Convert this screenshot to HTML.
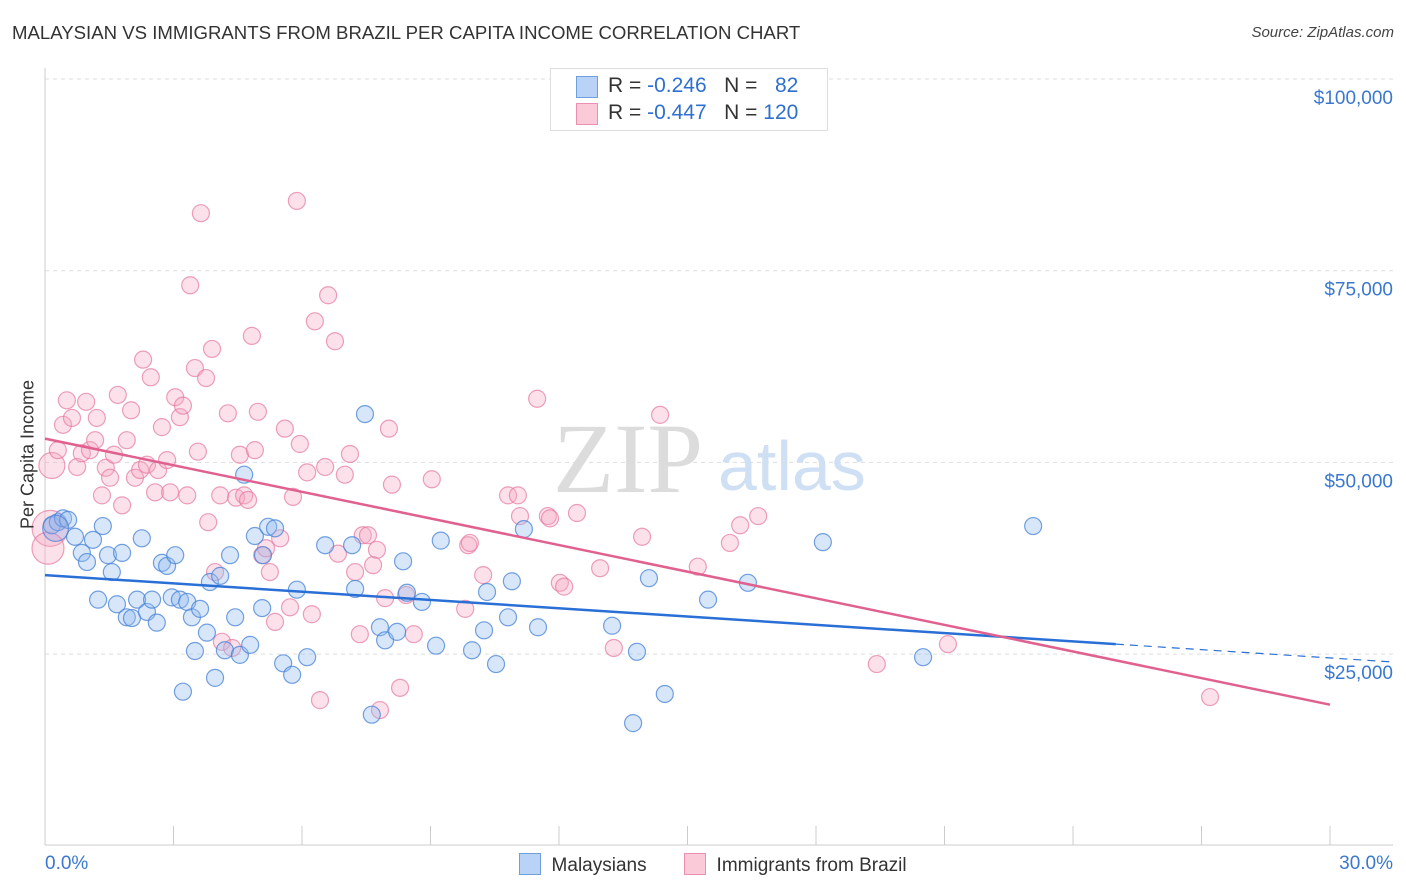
<!DOCTYPE html>
<html><head><meta charset="utf-8">
<style>
body{margin:0;background:#fff;font-family:"Liberation Sans",sans-serif;}
#wrap{position:relative;width:1406px;height:892px;overflow:hidden;}
.t{position:absolute;white-space:nowrap;}
</style></head>
<body>
<div id="wrap">
<div class="t" style="left:12px;top:22px;font-size:18.6px;color:#333;">MALAYSIAN VS IMMIGRANTS FROM BRAZIL PER CAPITA INCOME CORRELATION CHART</div>
<div class="t" style="right:12px;top:24px;font-size:15px;color:#444;font-style:italic;">Source: ZipAtlas.com</div>
<svg id="svg" width="1406" height="892" style="position:absolute;left:0;top:0"></svg>
</div>
<script>
const xPct=[0,30];
const yTickVals=[25000,50000,75000,100000];
const yTickLabels=["$25,000","$50,000","$75,000","$100,000"];
const blueX=[0.16,0.30,0.42,0.54,0.70,0.86,0.98,1.12,1.24,1.35,1.47,1.56,1.68,1.80,1.91,2.03,2.15,2.26,2.38,2.50,2.61,2.73,2.85,2.96,3.04,3.15,3.22,3.32,3.43,3.50,3.62,3.78,3.85,3.97,4.09,4.20,4.32,4.44,4.55,4.65,4.79,4.90,5.07,5.09,5.21,5.37,5.56,5.77,5.88,6.12,6.54,7.17,7.24,7.47,7.63,7.82,7.94,8.22,8.36,8.45,8.80,9.13,9.24,9.97,10.32,10.25,10.53,10.81,10.90,11.18,11.51,13.24,13.73,13.82,14.10,14.47,15.48,16.41,18.16,20.50,23.07];
const blueY=[41.8,42.2,42.7,42.5,40.3,38.2,37.0,39.9,32.1,41.7,37.9,35.7,31.5,38.2,29.8,29.7,32.1,40.1,30.5,32.1,29.1,36.9,36.5,32.4,37.9,32.1,20.1,31.8,29.8,25.4,30.9,27.8,34.4,21.9,35.2,25.5,37.9,29.8,24.9,48.4,26.2,40.4,31.0,37.9,41.6,41.4,23.8,22.3,33.4,24.6,39.2,39.2,33.5,56.3,17.1,28.5,26.8,27.9,37.1,33.0,31.8,26.1,39.8,25.5,33.1,28.1,23.7,29.8,34.5,41.3,28.5,28.7,16.0,25.3,34.9,19.8,32.1,34.3,39.6,24.6,41.7];
const pinkX=[0.16,0.12,0.07,0.30,0.42,0.51,0.63,0.75,0.86,0.96,1.05,1.17,1.21,1.33,1.42,1.52,1.61,1.70,1.80,1.91,2.01,2.10,2.22,2.29,2.38,2.47,2.57,2.64,2.73,2.85,2.92,3.04,3.15,3.22,3.32,3.39,3.50,3.57,3.64,3.76,3.81,3.90,3.97,4.09,4.13,4.27,4.37,4.46,4.55,4.65,4.74,4.83,4.90,4.97,5.07,5.16,5.25,5.37,5.49,5.60,5.72,5.79,5.88,5.95,6.12,6.23,6.30,6.42,6.54,6.61,6.77,6.84,7.00,7.12,7.24,7.35,7.42,7.54,7.66,7.75,7.82,7.94,8.03,8.10,8.29,8.43,8.61,9.03,9.81,9.88,9.92,10.23,10.81,11.04,11.09,11.49,11.74,11.79,12.02,12.12,12.42,12.96,13.28,13.94,14.36,15.24,15.99,16.23,16.65,19.42,21.08,27.20];
const pinkY=[49.6,41.4,38.8,51.6,54.9,58.1,55.8,49.4,51.2,57.9,51.6,52.9,55.8,45.7,49.3,48.0,51.0,58.8,44.4,52.9,56.8,48.0,49.0,63.4,49.7,61.1,46.1,49.0,54.6,50.3,46.1,58.5,55.9,57.4,45.7,73.1,62.3,51.4,82.5,61.0,42.2,64.8,35.7,45.7,26.6,56.4,25.8,45.4,51.0,45.7,45.1,66.5,51.6,56.6,37.9,38.8,35.7,29.2,40.1,54.4,31.1,45.5,84.1,52.4,48.7,30.2,68.4,19.0,49.4,71.8,65.8,38.1,48.4,51.1,35.7,27.6,40.5,40.5,36.6,38.6,17.7,32.3,54.4,47.1,20.6,32.7,27.6,47.8,30.9,39.2,39.5,35.3,45.7,45.7,43.0,58.3,43.0,42.7,34.3,33.8,43.4,36.2,25.8,40.3,56.2,36.4,39.5,41.8,43.0,23.7,26.3,19.4];
const pinkR=[13,18,16];
const blueBig=[[0.25,41.4,13]];
const blueTrend=[35.3,26.3,24.5]; // at x=0, 25, 30
const pinkTrend=[53.1,18.4]; // at x=0, 30
const X=v=>45+(v/30)*1285;
const Y=v=>79+(100-v)/25*191.7;
const svg=document.getElementById('svg');
const NS='http://www.w3.org/2000/svg';
function mk(tag,attrs,name){const e=document.createElementNS(NS,tag);for(const k in attrs)e.setAttribute(k,attrs[k]);


svg.appendChild(e);return e;}
yTickVals.forEach((v,i)=>{
  mk('line',{x1:45,x2:1393,y1:Y(v/1000),y2:Y(v/1000),stroke:'#ddd','stroke-dasharray':'4,4'},'gridline');
  const t=mk('text',{x:1393,y:Y(v/1000)+25,'text-anchor':'end','font-size':19,fill:'#3a78d0','font-family':'Liberation Sans'},'y-tick-label');
  t.textContent=yTickLabels[i];
});
mk('line',{x1:45,x2:45,y1:68,y2:845,stroke:'#ccc'},'y-axis-line');
mk('line',{x1:45,x2:1393,y1:845,y2:845,stroke:'#ccc'},'x-axis-line');
for(let i=0;i<=10;i++){mk('line',{x1:X(i*3),x2:X(i*3),y1:826,y2:845,stroke:'#ccc'},'x-tick');}
const w1=mk('text',{x:553,y:492,'font-size':100,fill:'#dcdcdc','font-family':'Liberation Serif'},'watermark-zip');w1.textContent='ZIP';
const w2=mk('text',{x:718,y:490,'font-size':70,fill:'#cfe0f4','font-family':'Liberation Sans'},'watermark-atlas');w2.textContent='atlas';
pinkX.forEach((x,i)=>{mk('circle',{cx:X(x),cy:Y(pinkY[i]),r:pinkR[i]||8.5,fill:'rgba(245,170,195,0.35)',stroke:'rgba(228,120,160,0.7)','stroke-width':1.2},'pink-point');});
blueX.forEach((x,i)=>{mk('circle',{cx:X(x),cy:Y(blueY[i]),r:8.5,fill:'rgba(150,190,240,0.38)',stroke:'rgba(70,130,215,0.75)','stroke-width':1.2},'blue-point');});
blueBig.forEach(b=>{mk('circle',{cx:X(b[0]),cy:Y(b[1]),r:b[2],fill:'rgba(150,170,230,0.35)',stroke:'rgba(70,130,215,0.7)','stroke-width':1.2},'blue-point-large');});
mk('line',{x1:X(0),y1:Y(blueTrend[0]),x2:X(25),y2:Y(blueTrend[1]),stroke:'#2a6fd6','stroke-width':2.5},'blue-trend-line');
mk('line',{x1:X(25),y1:Y(blueTrend[1]),x2:1393,y2:Y(blueTrend[1]+(blueTrend[2]-blueTrend[1])*((1393-X(25))/(X(30)-X(25)))),stroke:'#2a6fd6','stroke-width':1.2,'stroke-dasharray':'8,6'},'blue-trend-dashed');
mk('line',{x1:X(0),y1:Y(pinkTrend[0]),x2:X(30),y2:Y(pinkTrend[1]),stroke:'#e0608f','stroke-width':2.5},'pink-trend-line');
</script>
<div class="t" style="left:-47px;top:444px;font-size:18px;color:#333;transform:rotate(-90deg);width:150px;text-align:center;">Per Capita Income</div>
<div class="t" style="left:45px;top:853px;font-size:19px;color:#3a78d0;">0.0%</div>
<div class="t" style="right:13px;top:853px;font-size:19px;color:#3a78d0;">30.0%</div>
<div style="position:absolute;left:550px;top:68px;width:276px;height:61px;border:1px solid #ddd;background:#fff;font-size:21px;color:#333;">
  <div style="position:absolute;left:25px;top:7px;width:20px;height:20px;background:#b8d3f5;border:1px solid #6fa0dc;"></div>
  <div class="t" style="left:57px;top:5px;">R = <span style="color:#2f6fd0">-0.246</span>&nbsp;&nbsp;&nbsp;N = &nbsp;&nbsp;<span style="color:#2f6fd0">82</span></div>
  <div style="position:absolute;left:25px;top:34px;width:20px;height:20px;background:#fbcad8;border:1px solid #eb90b0;"></div>
  <div class="t" style="left:57px;top:32px;">R = <span style="color:#2f6fd0">-0.447</span>&nbsp;&nbsp;&nbsp;N = <span style="color:#2f6fd0">120</span></div>
</div>
<div style="position:absolute;left:519px;top:853px;font-size:19px;color:#333;">
  <span style="display:inline-block;width:20px;height:20px;background:#b8d3f5;border:1px solid #6fa0dc;vertical-align:-4px;"></span>&nbsp; Malaysians</div>
<div style="position:absolute;left:684px;top:853px;font-size:19px;color:#333;">
  <span style="display:inline-block;width:20px;height:20px;background:#fbcad8;border:1px solid #eb90b0;vertical-align:-4px;"></span>&nbsp; Immigrants from Brazil</div>
</body></html>
